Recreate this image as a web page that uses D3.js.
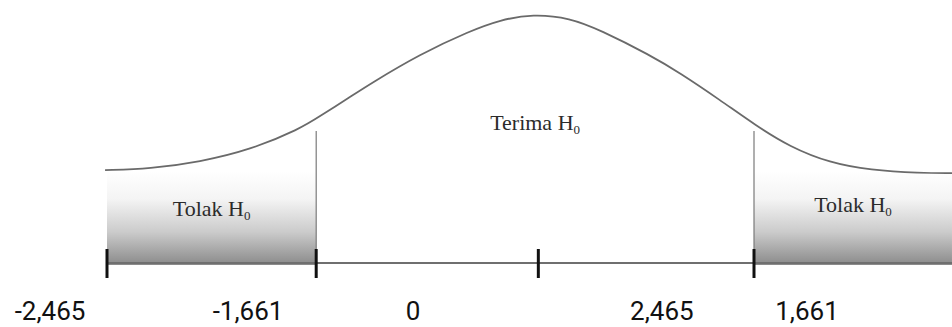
<!DOCTYPE html>
<html>
<head>
<meta charset="utf-8">
<script src="https://cdn.jsdelivr.net/npm/d3@7"></script>
<style>
  body { margin: 0; background: #fff; }
  .region { font-family: "Liberation Serif", "Times New Roman", serif; font-size: 22px; fill: #2b2b2b; }
  .crit { font-family: Roboto, "Noto Sans", sans-serif; font-size: 26px; fill: #111; }
</style>
</head>
<body>
<svg id="chart"></svg>
<script>
// curve (x in axis units, y as height relative to the peak)
var curveX = [-2.009, -1.801, -1.569, -1.337, -1.106, -1.012, -0.873, -0.781, -0.549, -0.317, -0.178, -0.025, 0.147, 0.286, 0.518, 0.657, 0.842, 1.005, 1.167, 1.352, 1.538, 1.770, 1.918];
var curveY = [0.373, 0.378, 0.406, 0.454, 0.538, 0.590, 0.667, 0.719, 0.839, 0.932, 0.976, 1.000, 0.984, 0.936, 0.835, 0.763, 0.655, 0.554, 0.466, 0.402, 0.373, 0.361, 0.361];

// tick marks on the axis
var tickPos = [-2, -1.03, 0, 1];

// critical values written under the axis (in the order they appear)
var critLabels = ["-2,465", "-1,661", "0", "2,465", "1,661"];
var critPos = [-2.264, -1.346, -0.581, 0.573, 1.246];

// regions
var regionNames = ["Tolak", "Terima", "Tolak"];
var regionFrom = [-2, -1.03, 1];
var regionTo = [-1.03, 1, 1.918];
var regionShaded = [true, false, true];
var regionLabelY = [0.19, 0.535, 0.205];

var shadeTop = 0.37;
var boundaryTop = 0.53;

var initChart = function()
{
    var screen = {width:952, height:327};
    var svg = d3.select("#chart")
        .attr("width", screen.width)
        .attr("height", screen.height);

    var xScale = d3.scaleLinear()
        .domain([-2, 1])
        .range([107, 754]);

    var yScale = d3.scaleLinear()
        .domain([0, 1])
        .range([263, 14]);

    var defs = svg.append("defs");
    var grad = defs.append("linearGradient")
        .attr("id", "shade")
        .attr("x1", 0).attr("y1", 0)
        .attr("x2", 0).attr("y2", 1);
    grad.append("stop").attr("offset", "0%").attr("stop-color", "#ffffff");
    grad.append("stop").attr("offset", "30%").attr("stop-color", "#f4f4f4");
    grad.append("stop").attr("offset", "65%").attr("stop-color", "#cbcbcb");
    grad.append("stop").attr("offset", "100%").attr("stop-color", "#8a8a8a");

    var regions = regionNames.map(function(n, i)
    {
        return {name:n, from:regionFrom[i], to:regionTo[i], shaded:regionShaded[i], ly:regionLabelY[i]};
    });

    // shaded rejection areas
    svg.selectAll("rect.shade")
        .data(regions.filter(function(r) { return r.shaded; }))
        .enter()
        .append("rect")
        .attr("class", "shade")
        .attr("x", function(r) { return xScale(r.from); })
        .attr("y", yScale(shadeTop))
        .attr("width", function(r) { return xScale(r.to) - xScale(r.from); })
        .attr("height", yScale(0) - yScale(shadeTop) + 2)
        .attr("fill", "url(#shade)");

    // axis line
    svg.append("line")
        .attr("x1", xScale(tickPos[0]))
        .attr("x2", xScale(regionTo[2]))
        .attr("y1", yScale(0))
        .attr("y2", yScale(0))
        .attr("stroke", "#6f6f6f")
        .attr("stroke-width", 2);

    // boundary lines
    svg.selectAll("line.bound")
        .data([regionFrom[1], regionFrom[2]])
        .enter()
        .append("line")
        .attr("class", "bound")
        .attr("x1", function(d) { return xScale(d); })
        .attr("x2", function(d) { return xScale(d); })
        .attr("y1", yScale(boundaryTop))
        .attr("y2", yScale(0))
        .attr("stroke", "#7a7a7a")
        .attr("stroke-width", 1.2);

    // curve
    var pts = curveX.map(function(x, i) { return [x, curveY[i]]; });
    var line = d3.line()
        .x(function(d) { return xScale(d[0]); })
        .y(function(d) { return yScale(d[1]); })
        .curve(d3.curveBasis);
    svg.append("path")
        .datum(pts)
        .attr("d", line)
        .attr("fill", "none")
        .attr("stroke", "#6a6a6a")
        .attr("stroke-width", 1.8);

    // ticks
    svg.selectAll("line.tick")
        .data(tickPos)
        .enter()
        .append("line")
        .attr("class", "tick")
        .attr("x1", function(d) { return xScale(d); })
        .attr("x2", function(d) { return xScale(d); })
        .attr("y1", yScale(0) - 14)
        .attr("y2", yScale(0) + 15)
        .attr("stroke", "#111")
        .attr("stroke-width", 3);

    // region labels
    var labels = svg.selectAll("text.region")
        .data(regions)
        .enter()
        .append("text")
        .attr("class", "region")
        .attr("text-anchor", "middle")
        .attr("x", function(r) { return xScale((r.from + r.to) / 2); })
        .attr("y", function(r) { return yScale(r.ly); });
    labels.append("tspan").text(function(r) { return r.name + " H"; });
    labels.append("tspan")
        .text("0")
        .attr("font-size", "13px")
        .attr("dy", 4);

    // critical values
    svg.selectAll("text.crit")
        .data(critLabels)
        .enter()
        .append("text")
        .attr("class", "crit")
        .attr("text-anchor", "middle")
        .attr("x", function(d, i) { return xScale(critPos[i]); })
        .attr("y", 320)
        .text(function(d) { return d; });
}

initChart();
</script>
</body>
</html>
